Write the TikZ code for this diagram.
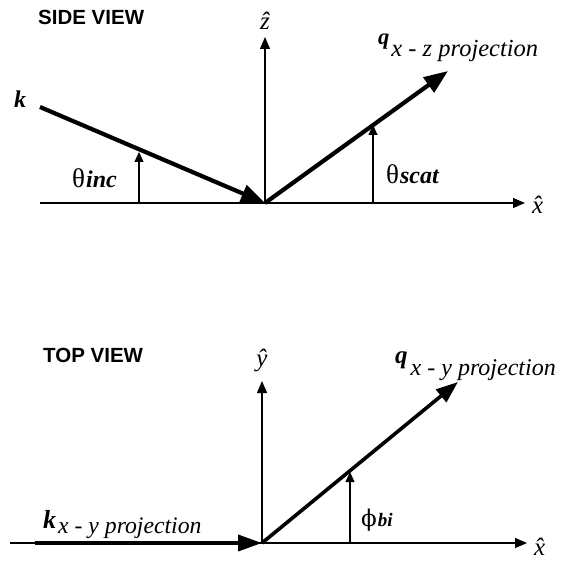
\documentclass[tikz,border=0pt]{standalone}
\usepackage{fontspec}
\setmainfont{Liberation Serif}
\setsansfont{Liberation Sans}
\newfontfamily\symfont{DejaVu Serif}
\usetikzlibrary{arrows.meta}
\tikzset{
  axis/.style={line width=1.1pt,-{Triangle[length=12pt,width=10pt]}},
  thickarrow/.style={line width=4.2pt,-{Triangle[length=24pt,width=18pt]}},
  anglearrow/.style={line width=1.1pt,-{Triangle[length=10pt,width=9pt]}},
  heading/.style={font=\sffamily\bfseries\fontsize{20.5}{20}\selectfont,inner sep=0pt},
  lbl/.style={font=\fontsize{22.5}{22}\selectfont,inner sep=0pt},
  hatlbl/.style={font=\itshape\fontsize{25}{25}\selectfont,inner sep=0pt},
}
\newcommand{\subfnt}{\bfseries\itshape\fontsize{24}{24}\selectfont}
\newcommand{\thetafnt}{\fontsize{27}{27}\selectfont}
\newcommand{\projfnt}[1]{\itshape\fontsize{#1}{#1}\selectfont}
\begin{document}
\begin{tikzpicture}[x=1pt,y=-1pt]
\useasboundingbox (0,0) rectangle (561,561);
% ---------- SIDE VIEW ----------
\node[heading,anchor=base west] (sv) at (38,25) {SIDE VIEW};
\coordinate (o1) at (265,203);
\coordinate (x1s) at (40,203);
\coordinate (x1e) at (525,203);
\coordinate (z1e) at (265,37);
\coordinate (k1s) at (40,107);
\coordinate (q1e) at (448,71);
\coordinate (ti0) at (139,203);
\coordinate (ti1) at (139,152);
\coordinate (ts0) at (373,203);
\coordinate (ts1) at (373,125);
\draw[axis] (x1s) -- (x1e);
\draw[axis] (o1) -- (z1e);
\draw[thickarrow] (k1s) -- (o1);
\draw[thickarrow] (o1) -- (q1e);
\draw[anglearrow] (ti0) -- (ti1);
\draw[anglearrow] (ts0) -- (ts1);
\node[hatlbl,anchor=base] (zh) at (265,30) {\^{z}};
\node[hatlbl,anchor=base west] (xh1) at (532,213) {\^{x}};
\node[lbl,anchor=base west] (kl) at (14,108) {\bfseries\itshape\fontsize{24}{24}\selectfont k};
\node[lbl,anchor=base west] (tinc) at (72,187) {{\thetafnt θ}\kern1pt{\subfnt inc}};
\node[lbl,anchor=base west] (tscat) at (386,183) {{\thetafnt θ}\kern1pt{\subfnt scat}};
\node[lbl,anchor=base west] (ql1) at (378,45) {{\bfseries\itshape q}\kern2pt\raisebox{-12pt}{\projfnt{24.5}x - z projection}};
% ---------- TOP VIEW ----------
\node[heading,anchor=base west] (tv) at (43,362) {TOP VIEW};
\coordinate (o2) at (262,543);
\coordinate (x2s) at (10,543);
\coordinate (x2e) at (527,543);
\coordinate (y2e) at (262,381);
\coordinate (k2s) at (35,543);
\coordinate (q2e) at (458,382);
\coordinate (p0) at (350,543);
\coordinate (p1) at (350,472);
\draw[axis] (x2s) -- (x2e);
\draw[axis] (o2) -- (y2e);
\draw[line width=3.8pt,-{Triangle[length=24pt,width=16pt]}] (k2s) -- (o2);
\draw[line width=3.6pt,-{Triangle[length=22pt,width=16pt]}] (o2) -- (q2e);
\draw[anglearrow] (p0) -- (p1);
\node[hatlbl,anchor=base] (yh) at (262,366) {\^{y}};
\node[hatlbl,anchor=base west] (xh2) at (534,555) {\^{x}};
\node[lbl,anchor=base west] (kl2) at (43,528) {{\bfseries\itshape\fontsize{26}{26}\selectfont k}\kern2pt\raisebox{-5pt}{\projfnt{23.7}x - y projection}};
\node[lbl,anchor=base west] (phl) at (361,526) {{\symfont\fontsize{23}{23}\selectfont ϕ}\kern1pt{\bfseries\itshape\fontsize{19}{19}\selectfont bi}};
\node[lbl,anchor=base west] (ql2) at (395,363) {{\bfseries\itshape\fontsize{25}{25}\selectfont q}\kern3pt\raisebox{-12pt}{\projfnt{24}x - y projection}};
\end{tikzpicture}
\end{document}
